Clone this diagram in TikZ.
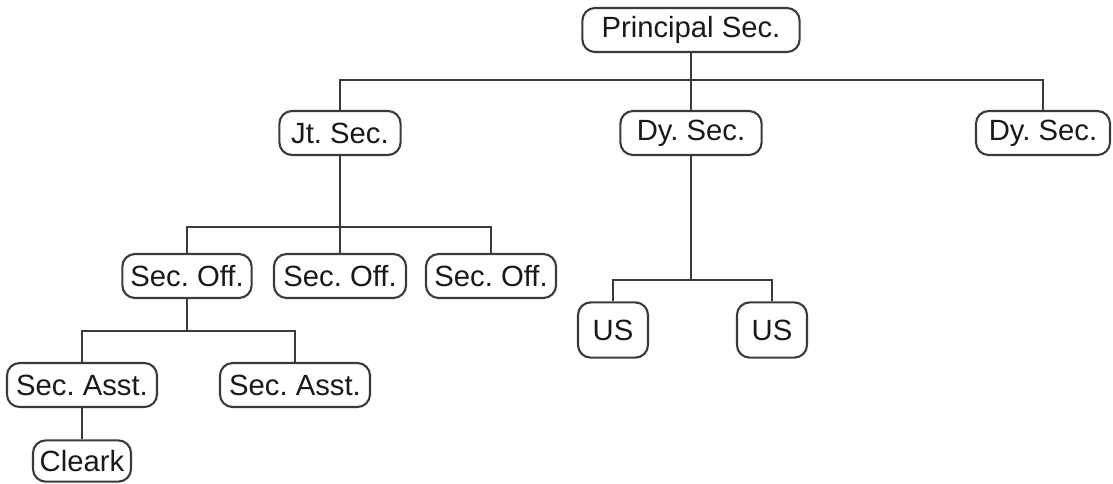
\documentclass[tikz,border=0pt]{standalone}
\usepackage{fontspec}
\setmainfont{Liberation Sans}
\usepackage{tikz}
\usetikzlibrary{positioning,calc}
\definecolor{Ink}{HTML}{3A3A3A}
\frenchspacing

\begin{document}
\begin{tikzpicture}[x=0.025cm,y=-0.025cm,
  post/.style={draw=Ink,line width=1.5pt,rounded corners=9pt,minimum height=1.1cm,inner xsep=4pt,inner ysep=0pt,font=\fontsize{20.8}{24}\selectfont,text=black!90},
  link/.style={draw=Ink,line width=1.5pt}
]
\useasboundingbox (0,0) rectangle (1113,483);
% top level
\node[post,minimum width=5.43cm] (ps) at (691,30) {Principal Sec.};
\node[post,minimum width=3.03cm] (js) at (340,133) {Jt. Sec.};
\node[post,minimum width=3.53cm] (ds1) at (691,133) {Dy. Sec.};
\node[post,minimum width=3.35cm] (ds2) at (1043,133) {Dy. Sec.};
% officers
\node[post,minimum width=3.23cm] (so1) at (187,276) {Sec. Off.};
\node[post,minimum width=3.30cm] (so2) at (340,276) {Sec. Off.};
\node[post,minimum width=3.25cm] (so3) at (491,276) {Sec. Off.};
\node[post,minimum width=1.75cm,minimum height=1.38cm] (us1) at (613,330) {US};
\node[post,minimum width=1.75cm,minimum height=1.38cm] (us2) at (772,330) {US};
% assistants
\node[post,minimum width=3.75cm] (sa1) at (82,385) {Sec. Asst.};
\node[post,minimum width=3.75cm] (sa2) at (295,385) {Sec. Asst.};
\node[post,minimum width=2.45cm,minimum height=1.03cm] (cl) at (82,461) {Cleark};
% branch points
\coordinate (b1) at (691,80);
\coordinate (b2) at (340,227);
\coordinate (b3) at (691,280);
\coordinate (b4) at (187,331);
\draw[link] (ps) -- (b1);
\draw[link] (b1) -| (js.north);
\draw[link] (b1) -| (ds2.north);
\draw[link] (b1) -- (ds1);
\draw[link] (js) -- (b2);
\draw[link] (b2) -| (so1.north);
\draw[link] (b2) -| (so3.north);
\draw[link] (b2) -- (so2);
\draw[link] (ds1) -- (b3);
\draw[link] (b3) -| (us1.north);
\draw[link] (b3) -| (us2.north);
\draw[link] (so1) -- (b4);
\draw[link] (b4) -| (sa1.north);
\draw[link] (b4) -| (sa2.north);
\draw[link] (sa1) -- (cl);
\end{tikzpicture}
\end{document}
